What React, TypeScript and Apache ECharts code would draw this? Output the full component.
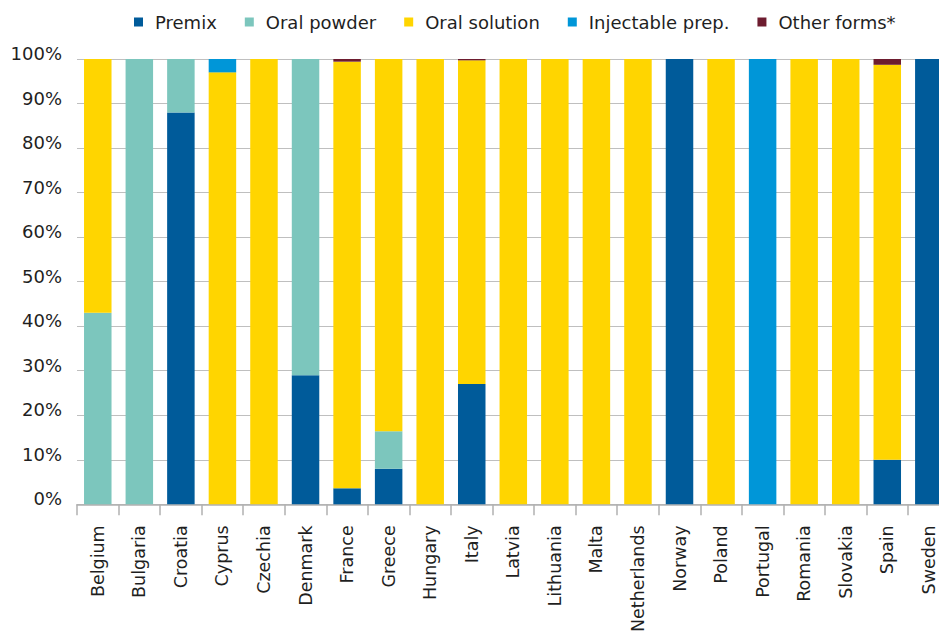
import React, { useEffect, useRef } from "react";
import * as echarts from "echarts";

const countries = [
  "Belgium", "Bulgaria", "Croatia", "Cyprus", "Czechia", "Denmark", "France",
  "Greece", "Hungary", "Italy", "Latvia", "Lithuania", "Malta", "Netherlands",
  "Norway", "Poland", "Portugal", "Romania", "Slovakia", "Spain", "Sweden",
];

const premix = [0, 0, 88, 0, 0, 29, 3.6, 8, 0, 27, 0, 0, 0, 0, 100, 0, 0, 0, 0, 10, 100];
const oralPowder = [43, 100, 12, 0, 0, 71, 0, 8.4, 0, 0, 0, 0, 0, 0, 0, 0, 0, 0, 0, 0, 0];
const oralSolution = [57, 0, 0, 97, 100, 0, 95.8, 83.6, 100, 72.7, 100, 100, 100, 100, 0, 100, 0, 100, 100, 88.7, 0];
const injectable = [0, 0, 0, 3, 0, 0, 0, 0, 0, 0, 0, 0, 0, 0, 0, 0, 100, 0, 0, 0, 0];
const otherForms = [0, 0, 0, 0, 0, 0, 0.6, 0, 0, 0.3, 0, 0, 0, 0, 0, 0, 0, 0, 0, 1.3, 0];

const seriesNames = ["Premix", "Oral powder", "Oral solution", "Injectable prep.", "Other forms*"];
const seriesData = [premix, oralPowder, oralSolution, injectable, otherForms];
const colors = ["#005B9A", "#7CC6BD", "#FFD500", "#0096D8", "#6D1C2F"];

const FONT = "DejaVu Sans, Verdana, sans-serif";
const TEXT = "#1f1f1f";

export default function App() {
  const ref = useRef<HTMLDivElement>(null);
  useEffect(() => {
    if (!ref.current) return;
    const chart = echarts.init(ref.current, null, { renderer: "svg" });
    chart.setOption({
      animation: false,
      textStyle: { fontFamily: FONT },
      legend: {
        top: 8,
        left: 129,
        itemWidth: 9,
        itemHeight: 9,
        itemGap: 28,
        icon: "rect",
        textStyle: { fontFamily: FONT, fontSize: 18, color: TEXT, padding: [0, 0, 0, 7] },
        data: seriesNames,
      },
      grid: { left: 77, top: 59, width: 872.6, height: 450, containLabel: false },
      xAxis: {
        type: "category",
        data: countries,
        axisLine: { show: true, lineStyle: { color: "#B0B0B0", width: 1.5 } },
        axisTick: { show: true, length: 11, lineStyle: { color: "#B0B0B0", width: 1.5 } },
        axisLabel: {
          rotate: 90,
          interval: 0,
          margin: 21,
          fontFamily: FONT,
          fontSize: 17.5,
          color: TEXT,
        },
      },
      yAxis: {
        type: "value",
        min: 0,
        max: 100,
        interval: 10,
        axisLine: { show: false },
        axisTick: { show: false },
        splitLine: { lineStyle: { color: "#BFBFBF", width: 1.2 } },
        axisLabel: {
          formatter: "{value}%",
          margin: 15,
          fontFamily: FONT,
          fontSize: 18,
          color: TEXT,
          lineHeight: 11,
          verticalAlign: "bottom",
        },
      },
      series: seriesNames.map((name, i) => ({
        name,
        type: "bar",
        stack: "total",
        barWidth: 27.5,
        data: seriesData[i],
        itemStyle: { color: colors[i] },
      })),
    });
    return () => chart.dispose();
  }, []);
  return (
    <div
      ref={ref}
      style={{ position: "fixed", left: 0, top: 0, width: 960, height: 635, background: "#fff" }}
    />
  );
}
